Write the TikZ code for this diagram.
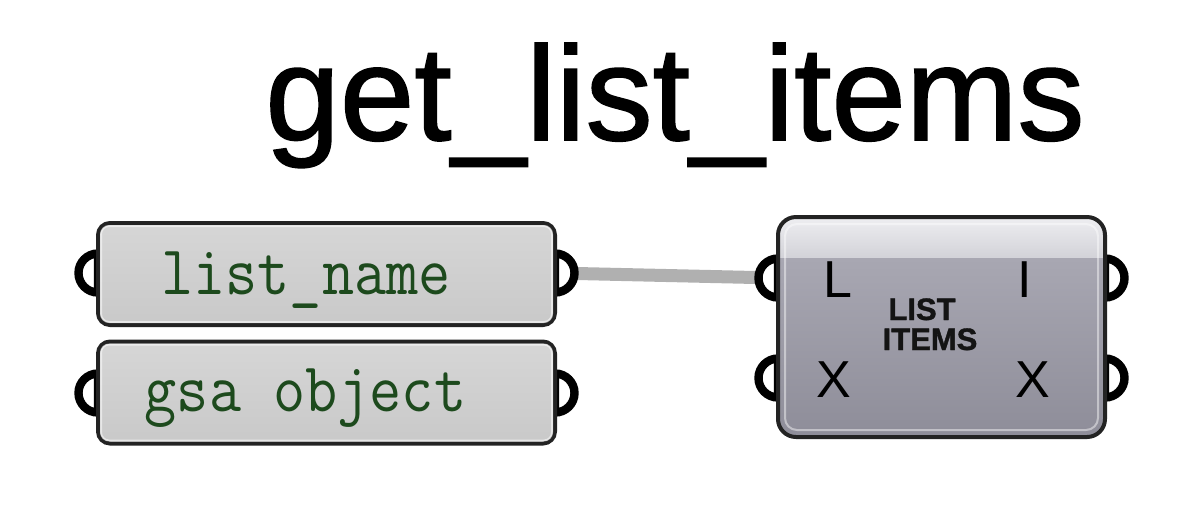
\documentclass[tikz,border=0pt]{standalone}
\usepackage{fontspec}
\setmainfont{Liberation Sans}
\newfontfamily\titlefont[FakeBold=1.2]{Liberation Sans}
\usetikzlibrary{calc}
\definecolor{wiregray}{HTML}{B0B0B0}
\definecolor{edge}{HTML}{232323}
\definecolor{txtgreen}{HTML}{1D4A1D}
\definecolor{boxtop}{HTML}{D6D6D6}
\definecolor{boxbot}{HTML}{C9C9C9}
\definecolor{bandtop}{HTML}{EEEEF1}
\definecolor{bandbot}{HTML}{D2D2D8}
\definecolor{bodytop}{HTML}{A8A7B2}
\definecolor{bodybot}{HTML}{8E8D99}
\tikzset{
  databox/.style={draw=edge, line width=2pt, rounded corners=6pt, top color=boxtop, bottom color=boxbot, minimum width=228.5pt, minimum height=51pt, inner sep=0pt},
  hl/.style={draw=white, opacity=0.55, line width=1pt, rounded corners=4pt},
  port/.style={draw=black, line width=4.2pt, fill=white},
  wire/.style={draw=wiregray, line width=6.5pt},
  monotxt/.style={text=txtgreen, font=\ttfamily\fontsize{31.2pt}{32pt}\selectfont, inner sep=0pt, anchor=base},
  plabel/.style={font=\fontsize{26pt}{28pt}\selectfont, inner sep=0pt, anchor=base},
  icontxt/.style={font=\titlefont\bfseries\fontsize{15.5pt}{17pt}\selectfont, inner sep=0pt, anchor=base, text=black!92},
}
\begin{document}
\begin{tikzpicture}[x=0.5pt,y=-0.5pt]
\useasboundingbox (0,0) rectangle (1200,511);
% title
\node[font=\titlefont\fontsize{67pt}{70pt}\selectfont, inner sep=0pt, anchor=base] (title) at (675,140) {get\_list\_items};
% port coordinates
\coordinate (b1in) at (98,273);
\coordinate (b1out) at (555,273);
\coordinate (b2in) at (98,393);
\coordinate (b2out) at (555,393);
\coordinate (cinL) at (778,278);
\coordinate (cinX) at (778,378);
\coordinate (coutI) at (1105,278);
\coordinate (coutX) at (1105,378);
% wire
\draw[wire] (b1out) -- (cinL);
% ports (left-facing)
\foreach \p in {b1in,b2in,cinL,cinX}{
  \draw[port] ($(\p)+(0,-19.5)$) arc[start angle=90, end angle=270, radius=9.75pt] -- cycle;
}
\foreach \p in {b1out,b2out,coutI,coutX}{
  \draw[port] ($(\p)+(0,-19.5)$) arc[start angle=90, end angle=-90, radius=9.75pt] -- cycle;
}
% data boxes
\node[databox] (b1) at (326.5,274) {};
\draw[hl] ($(b1.north west)+(5,5)$) rectangle ($(b1.south east)+(-5,-5)$);
\node[monotxt] (t1) at (306,294) {\scalebox{1}[1.12]{list\_name}};
\node[databox] (b2) at (326.5,392.5) {};
\draw[hl] ($(b2.north west)+(5,5)$) rectangle ($(b2.south east)+(-5,-5)$);
\node[monotxt] (t2) at (305.5,411) {\scalebox{1}[1.12]{gsa object}};
% component
\coordinate (cnw) at (778,217);
\coordinate (cse) at (1105,437);
\begin{scope}
  \clip[rounded corners=9pt] (cnw) rectangle (cse);
  \shade[top color=bandtop, bottom color=bandbot] (778,217) rectangle (1105,258);
  \shade[top color=bodytop, bottom color=bodybot] (778,258) rectangle (1105,437);
\end{scope}
\draw[draw=white, opacity=0.45, line width=1pt, rounded corners=6pt] (785,224) rectangle (1098,430);
\draw[draw=edge, line width=2pt, rounded corners=9pt] (cnw) rectangle (cse);
% port labels
\node[plabel] (lL) at (838,297) {L};
\node[plabel] (lX) at (834,397) {X};
\node[plabel] (rI) at (1025,297) {I};
\node[plabel] (rX) at (1033,397) {X};
% icon text
\node[icontxt] (ic1) at (922,320) {LIST};
\node[icontxt] (ic2) at (930,350) {ITEMS};
\end{tikzpicture}
\end{document}
